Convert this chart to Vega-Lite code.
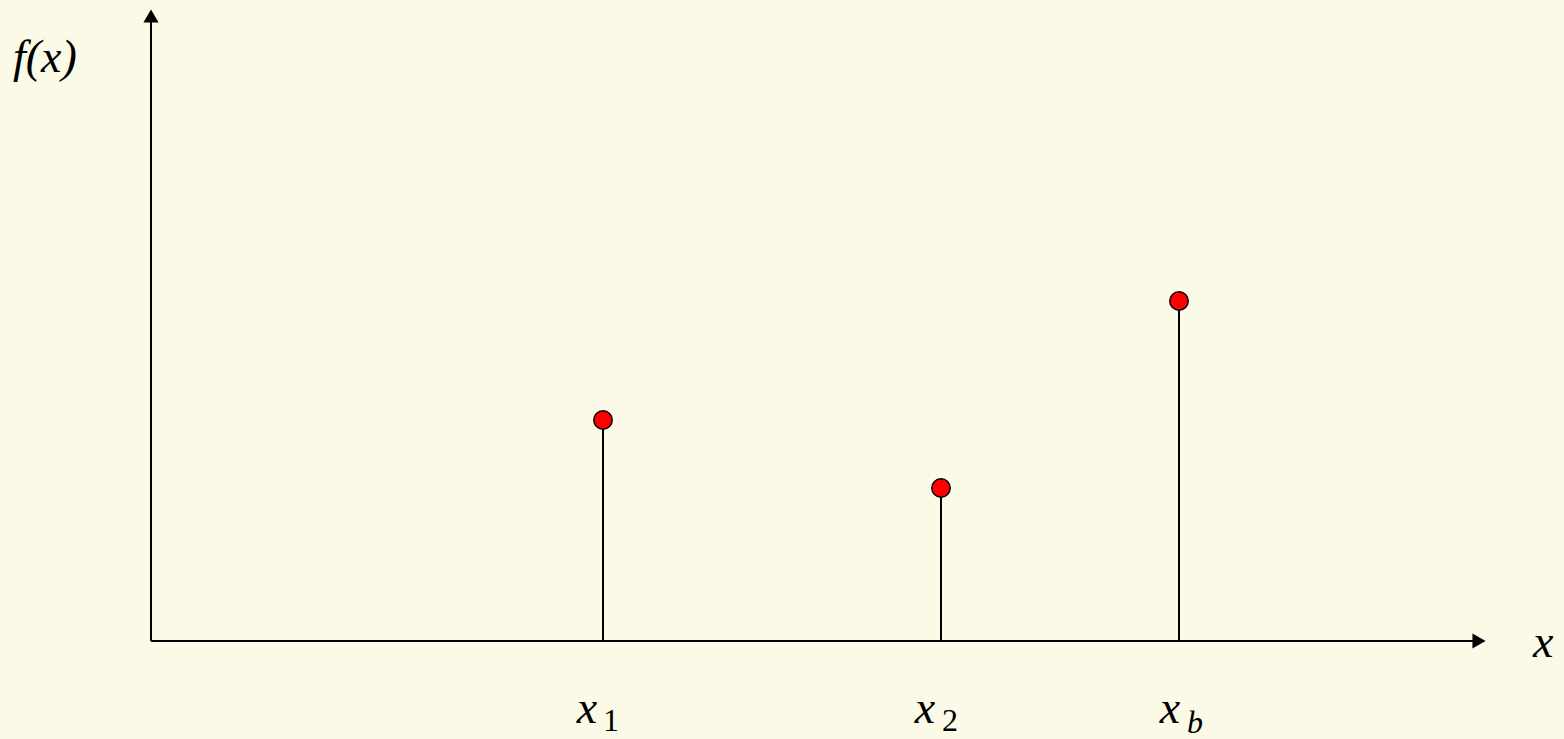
{
  "$schema": "https://vega.github.io/schema/vega-lite/v6.json",
  "width": 1564,
  "height": 739,
  "autosize": {"type": "none"},
  "padding": 0,
  "background": "#FAFAE6",
  "config": {"view": {"stroke": null}, "text": {"font": "Liberation Serif"}},
  "data": {"values": [{"k": 1}]},
  "datasets": {
    "stems": [
      {"name": "x1", "pos": 452, "val": 221, "base": 0},
      {"name": "x2", "pos": 790, "val": 153, "base": 0},
      {"name": "xb", "pos": 1028, "val": 340, "base": 0}
    ],
    "axes": [
      {"ax": "x", "xa": 0, "xb": 1328, "ya": 0, "yb": 0},
      {"ax": "y", "xa": 0, "xb": 0, "ya": 0, "yb": 620}
    ],
    "arrows": [
      {"ax": "x", "px": 1328, "py": 0},
      {"ax": "y", "px": 0, "py": 625}
    ]
  },
  "layer": [
    {
      "data": {"name": "axes"},
      "mark": {"type": "rule", "color": "black", "strokeWidth": 2},
      "encoding": {
        "x": {"field": "xa", "type": "quantitative", "scale": {"domain": [-151, 1413], "nice": false, "zero": false}, "axis": null},
        "x2": {"field": "xb"},
        "y": {"field": "ya", "type": "quantitative", "scale": {"domain": [-98, 641], "nice": false, "zero": false}, "axis": null},
        "y2": {"field": "yb"}
      }
    },
    {
      "data": {"name": "arrows"},
      "mark": {"type": "point", "filled": true, "color": "black", "size": 230, "opacity": 1},
      "encoding": {
        "x": {"field": "px", "type": "quantitative"},
        "y": {"field": "py", "type": "quantitative"},
        "shape": {"field": "ax", "type": "nominal", "scale": {"domain": ["x", "y"], "range": ["triangle-right", "triangle-up"]}, "legend": null}
      }
    },
    {
      "data": {"name": "stems"},
      "mark": {"type": "rule", "color": "black", "strokeWidth": 2},
      "encoding": {
        "x": {"field": "pos", "type": "quantitative"},
        "y": {"field": "base", "type": "quantitative"},
        "y2": {"field": "val"}
      }
    },
    {
      "data": {"name": "stems"},
      "mark": {"type": "point", "shape": "circle", "filled": true, "fill": "#FF0000", "stroke": "black", "strokeWidth": 1.5, "size": 340, "opacity": 1},
      "encoding": {
        "x": {"field": "pos", "type": "quantitative"},
        "y": {"field": "val", "type": "quantitative"}
      }
    },
    {
      "mark": {"type": "text", "fontStyle": "italic", "fontSize": 46, "align": "left", "baseline": "alphabetic", "color": "black"},
      "encoding": {
        "x": {"datum": -138, "type": "quantitative"},
        "y": {"datum": 569, "type": "quantitative"},
        "text": {"value": "f(x)"}
      }
    },
    {
      "mark": {"type": "text", "fontStyle": "italic", "fontSize": 46, "align": "left", "baseline": "alphabetic", "color": "black"},
      "encoding": {
        "x": {"datum": 1382, "type": "quantitative"},
        "y": {"datum": -16, "type": "quantitative"},
        "text": {"value": "x"}
      }
    },
    {
      "data": {"values": [
        {"t": "x", "px": 436, "py": -82},
        {"t": "x", "px": 774, "py": -82},
        {"t": "x", "px": 1019, "py": -82}
      ]},
      "mark": {"type": "text", "fontStyle": "italic", "fontSize": 46, "align": "center", "baseline": "alphabetic", "color": "black"},
      "encoding": {
        "x": {"field": "px", "type": "quantitative"},
        "y": {"field": "py", "type": "quantitative"},
        "text": {"field": "t"}
      }
    },
    {
      "data": {"values": [
        {"t": "1", "px": 460, "py": -90},
        {"t": "2", "px": 799, "py": -90}
      ]},
      "mark": {"type": "text", "fontSize": 32, "align": "center", "baseline": "alphabetic", "color": "black"},
      "encoding": {
        "x": {"field": "px", "type": "quantitative"},
        "y": {"field": "py", "type": "quantitative"},
        "text": {"field": "t"}
      }
    },
    {
      "mark": {"type": "text", "fontStyle": "italic", "fontSize": 32, "align": "center", "baseline": "alphabetic", "color": "black"},
      "encoding": {
        "x": {"datum": 1044, "type": "quantitative"},
        "y": {"datum": -92, "type": "quantitative"},
        "text": {"value": "b"}
      }
    }
  ]
}
